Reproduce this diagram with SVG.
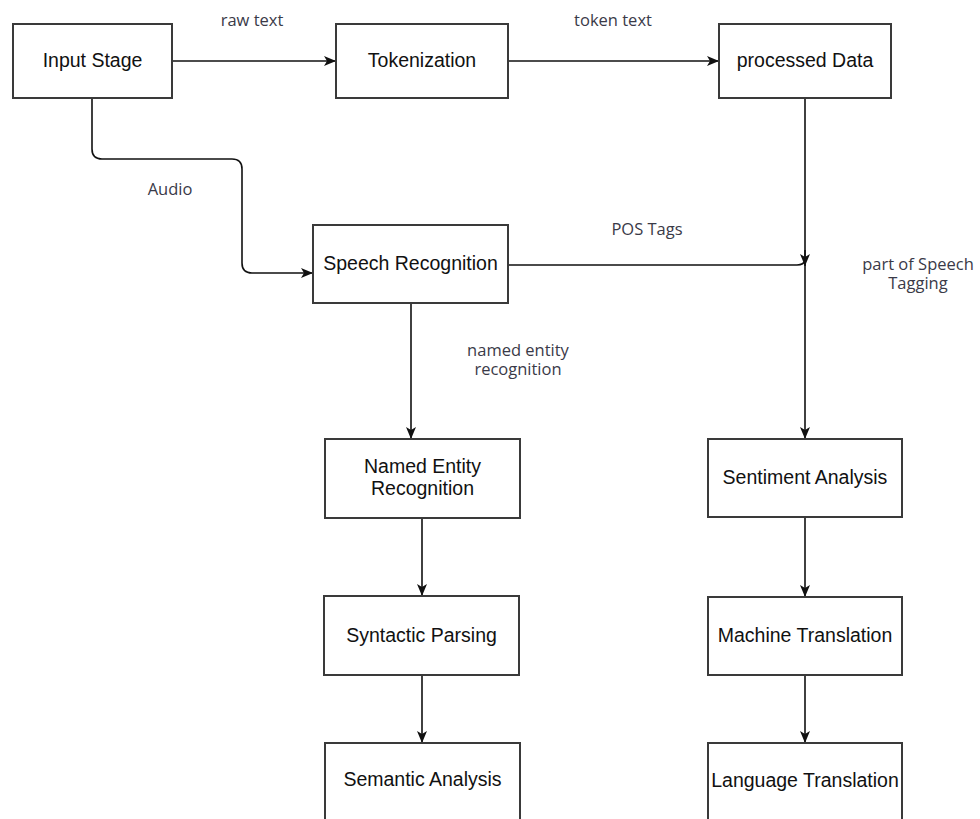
<svg xmlns="http://www.w3.org/2000/svg" width="980" height="819" viewBox="0 0 980 819">
<style>
.box{fill:#fff;stroke:#3a3a3a;stroke-width:2}
.nt{font-family:"Liberation Sans",Arial,sans-serif;font-size:19.5px;fill:#111;text-anchor:middle}
.lb{font-family:"Open Sans","Noto Sans",sans-serif;font-size:16.5px;fill:#3a3a48;text-anchor:middle}
.ed{fill:none;stroke:#111;stroke-width:1.6}
</style>
<defs>
<marker id="ar" viewBox="0 0 12 10" refX="12" refY="5" markerWidth="12" markerHeight="10" markerUnits="userSpaceOnUse" orient="auto">
<path d="M0,0 L12,5 L0,10 L3,5 Z" fill="#111"/>
</marker>
</defs>
<rect width="980" height="819" fill="#fff"/>
<g id="connectors">
<path class="ed" d="M172,61 H336" marker-end="url(#ar)"/>
<path class="ed" d="M508,61 H719" marker-end="url(#ar)"/>
<path class="ed" d="M92,98 V149 Q92,159 102,159 H232 Q242,159 242,169 V263 Q242,273 252,273 H313" marker-end="url(#ar)"/>
<path class="ed" d="M805,98 V439" marker-end="url(#ar)"/>
<path class="ed" d="M508,265 H797 Q804,265 805,260"/>
<path class="ed" d="M805,250 V266" marker-end="url(#ar)"/>
<path class="ed" d="M411,303 V439" marker-end="url(#ar)"/>
<path class="ed" d="M422,518 V596" marker-end="url(#ar)"/>
<path class="ed" d="M422,675 V743" marker-end="url(#ar)"/>
<path class="ed" d="M805,517 V597" marker-end="url(#ar)"/>
<path class="ed" d="M805,675 V743" marker-end="url(#ar)"/>
</g>
<g id="labels">
<text class="lb" x="252" y="26">raw text</text>
<text class="lb" x="613" y="26">token text</text>
<text class="lb" x="170" y="195">Audio</text>
<text class="lb" x="647" y="235">POS Tags</text>
<text class="lb" x="918" y="270">part of Speech</text>
<text class="lb" x="918" y="289">Tagging</text>
<text class="lb" x="518" y="356">named entity</text>
<text class="lb" x="518" y="375">recognition</text>
</g>
<g id="input-stage"><rect class="box" x="13" y="24" width="159" height="74"/><text class="nt" x="92.5" y="67">Input Stage</text></g>
<g id="tokenization"><rect class="box" x="336" y="24" width="172" height="74"/><text class="nt" x="422" y="67">Tokenization</text></g>
<g id="processed-data"><rect class="box" x="719" y="24" width="172" height="74"/><text class="nt" x="805" y="67">processed Data</text></g>
<g id="speech-recognition"><rect class="box" x="313" y="225" width="195" height="78"/><text class="nt" x="410.5" y="270">Speech Recognition</text></g>
<g id="named-entity-recognition"><rect class="box" x="325" y="439" width="195" height="79"/><text class="nt" x="422.5" y="473">Named Entity</text><text class="nt" x="422.5" y="495">Recognition</text></g>
<g id="syntactic-parsing"><rect class="box" x="324" y="596" width="195" height="79"/><text class="nt" x="421.5" y="642">Syntactic Parsing</text></g>
<g id="semantic-analysis"><rect class="box" x="325" y="743" width="195" height="80"/><text class="nt" x="422.5" y="786">Semantic Analysis</text></g>
<g id="sentiment-analysis"><rect class="box" x="708" y="439" width="194" height="78"/><text class="nt" x="805" y="484">Sentiment Analysis</text></g>
<g id="machine-translation"><rect class="box" x="708" y="597" width="194" height="78"/><text class="nt" x="805" y="642">Machine Translation</text></g>
<g id="language-translation"><rect class="box" x="708" y="743" width="194" height="80"/><text class="nt" x="805" y="787">Language Translation</text></g>
</svg>
